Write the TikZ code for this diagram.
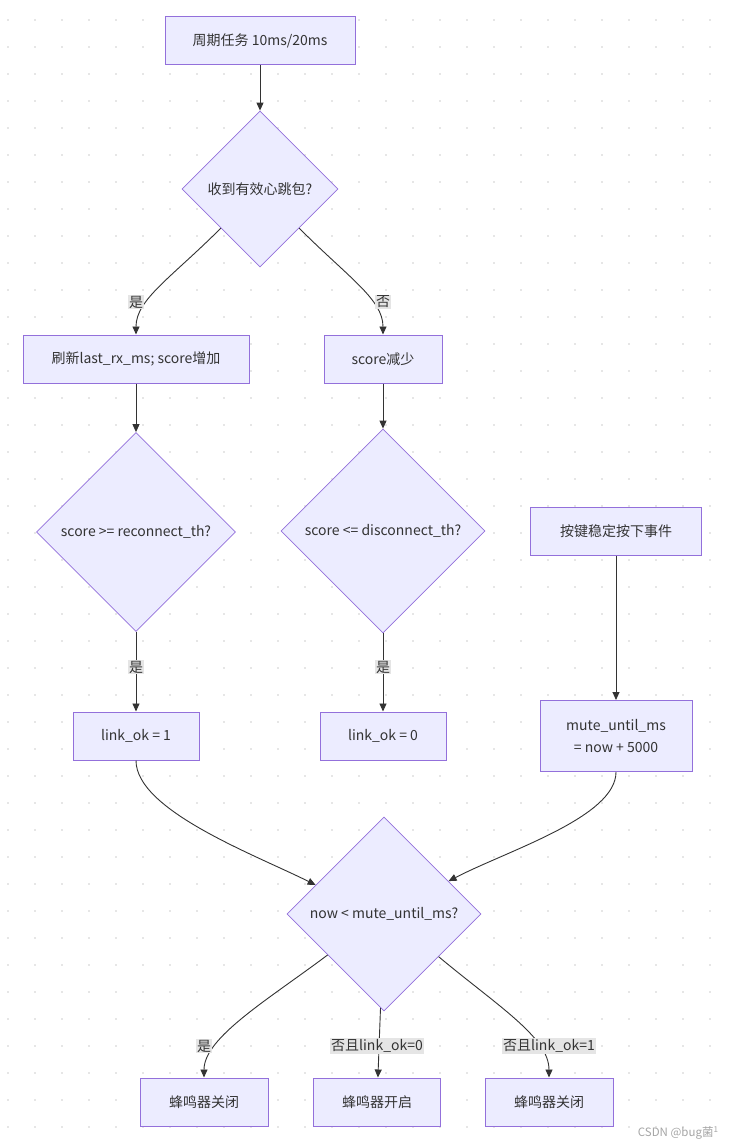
\documentclass[tikz,border=0pt]{standalone}
\usepackage{fontspec}
\setmainfont{Noto Sans CJK SC}
\usepackage{tikz}
\usetikzlibrary{arrows.meta,positioning,calc,shapes.geometric}
\definecolor{nodefill}{HTML}{ECECFF}
\definecolor{nodeline}{HTML}{9370DB}
\definecolor{edgeline}{HTML}{333333}
\definecolor{lblfill}{HTML}{E5E5E5}
\definecolor{dotgray}{HTML}{E6E6E6}

\begin{document}
\begin{tikzpicture}[x=1pt,y=-1pt,>={Triangle[length=8pt,width=7pt]},
  font=\fontsize{14}{22}\selectfont,
  box/.style={draw=nodeline,fill=nodefill,line width=1pt,minimum height=48pt,inner sep=0pt,text=edgeline},
  cond/.style={diamond,aspect=1,draw=nodeline,fill=nodefill,line width=0.8pt,inner sep=0pt,text=edgeline},
  flow/.style={->,draw=edgeline,line width=0.9pt},
  lbl/.style={fill=lblfill,inner sep=1pt,text=edgeline}]
\fill[white] (0,0) rectangle (728,1145);
\useasboundingbox (0,0) rectangle (728,1145);
\foreach \i in {0,...,26}
  \foreach \j in {0,...,41}
    \fill[dotgray] ({7+27*\i},{19+27*\j}) rectangle +(2,2);

\node[box,minimum width=190pt] (start) at (260,41) {周期任务 10ms/20ms};
\node[cond,minimum size=156pt] (recv) at (260,189) {收到有效心跳包?};
\node[box,minimum width=226pt] (refresh) at (136,359) {刷新last\_rx\_ms; score增加};
\node[box,minimum width=118pt] (dec) at (383,359) {score减少};
\node[cond,minimum size=199pt] (recon) at (136,532) {score >= reconnect\_th?};
\node[cond,minimum size=204pt] (discon) at (383,531) {score <= disconnect\_th?};
\node[box,minimum width=171pt] (key) at (616,531) {按键稳定按下事件};
\node[box,minimum width=126pt] (okone) at (136,736) {link\_ok = 1};
\node[box,minimum width=126pt] (okzero) at (383,736) {link\_ok = 0};
\node[box,minimum width=152pt,minimum height=71pt,align=center] (mute) at (616,736) {mute\_until\_ms\\= now + 5000};
\node[cond,minimum size=194pt] (now) at (384,914) {now < mute\_until\_ms?};
\node[box,minimum width=128pt] (offa) at (204,1102) {蜂鸣器关闭};
\node[box,minimum width=127pt] (on) at (377,1102) {蜂鸣器开启};
\node[box,minimum width=128pt] (offb) at (549,1102) {蜂鸣器关闭};

\draw[flow] (start) -- (recv);
\draw[flow] (recv.south west) .. controls +(-50,50) and +(0,-35) .. (refresh.north);
\draw[flow] (recv.south east) .. controls +(50,50) and +(0,-35) .. (dec.north);
\draw[flow] (refresh) -- (recon);
\draw[flow] (dec) -- (discon);
\draw[flow] (recon) -- (okone);
\draw[flow] (discon) -- (okzero);
\draw[flow] (key) -- (mute);
\draw[flow] (okone.south) .. controls +(0,50) and +(-60,-30) .. (now.157);
\draw[flow] (mute.south) .. controls +(0,45) and +(60,-31) .. (now.27);
\draw[flow] (now.216) .. controls +(-60,45) and +(0,-40) .. (offa.north);
\draw[flow] (now) -- (on);
\draw[flow] (now.-38) .. controls +(60,50) and +(0,-40) .. (offb.north);

\node[lbl] (yesa) at (136,302) {是};
\node[lbl] (noa) at (383,302) {否};
\node[lbl] (yesb) at (136,667) {是};
\node[lbl] (yesc) at (383,667) {是};
\node[lbl] (yesd) at (204,1046) {是};
\node[lbl] (nozero) at (377,1046) {否且link\_ok=0};
\node[lbl] (noone) at (549,1046) {否且link\_ok=1};

\node[text=black!35,font=\fontsize{11.5}{13}\selectfont,anchor=east] (mark) at (722,1133) {CSDN @bug菌\textsuperscript{1}};
\end{tikzpicture}
\end{document}
